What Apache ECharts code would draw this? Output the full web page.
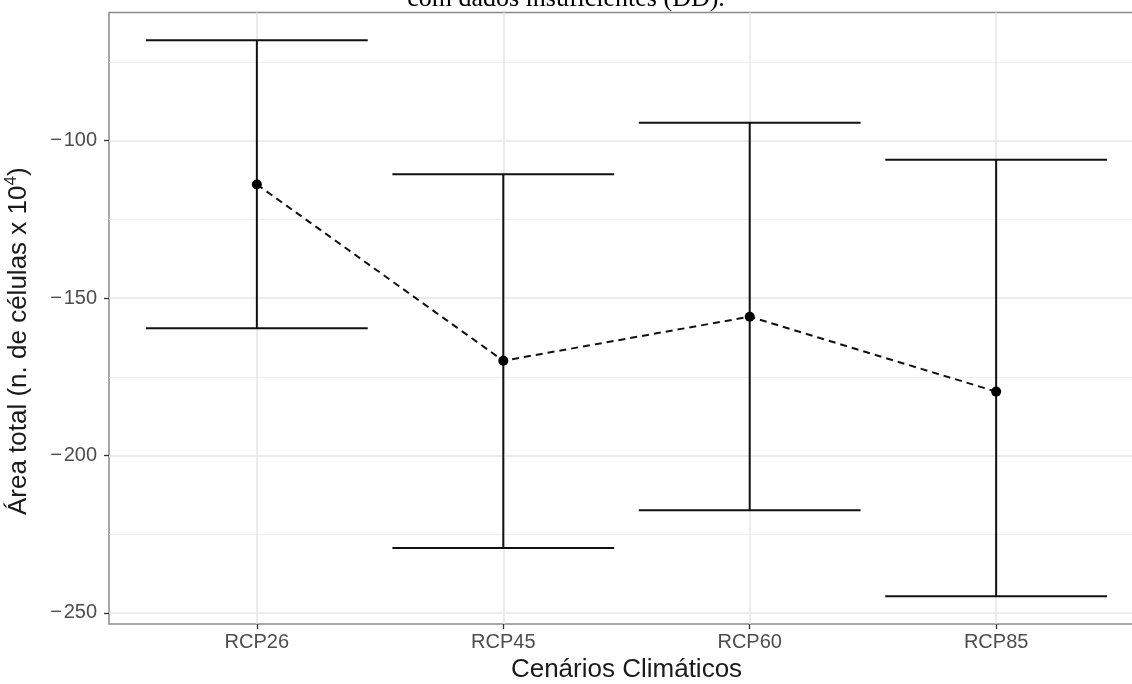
<!DOCTYPE html>
<html>
<head>
<meta charset="utf-8">
<script src="https://cdn.jsdelivr.net/npm/echarts@6/dist/echarts.min.js"></script>
<style>
html,body{margin:0;padding:0;background:#fff;overflow:hidden;}
#chart{width:1132px;height:684px;}
</style>
</head>
<body>
<div id="chart"></div>
<script>
const categories = ['RCP26', 'RCP45', 'RCP60', 'RCP85'];
const meanValues = [-113.9, -169.9, -155.9, -179.7];
const lowerValues = [-159.6, -229.4, -217.4, -244.7];
const upperValues = [-68.1, -110.7, -94.3, -106.1];
const yTicks = [-250, -200, -150, -100];
const yMinorTicks = [-225, -175, -125, -75];
const xPositions = [1, 2, 3, 4];

const titleText = 'com dados insuficientes (DD).';
const xTitle = 'Cenários Climáticos';
const yTitle = 'Área total (n. de células x 10{s|4})';

const chart = echarts.init(document.getElementById('chart'), null, {renderer: 'canvas'});

const errData = categories.map((c, i) => [xPositions[i], lowerValues[i], upperValues[i]]);
const meanData = categories.map((c, i) => [xPositions[i], meanValues[i]]);

const option = {
  animation: false,
  backgroundColor: '#ffffff',
  title: {
    text: titleText,
    left: 'center',
    top: -19,
    textStyle: {fontFamily: 'Liberation Serif', fontSize: 26, fontWeight: 'normal', color: '#000'}
  },
  grid: {
    left: 109, right: -12, top: 12.5, bottom: 60,
    outerBoundsMode: 'none', containLabel: false,
    show: true, borderColor: '#8a8a8a', borderWidth: 1.5, backgroundColor: 'transparent'
  },
  xAxis: {
    type: 'value', min: 0.4, max: 4.6,
    name: xTitle, nameLocation: 'middle', nameGap: 30,
    nameTextStyle: {fontFamily: 'Liberation Sans', fontSize: 26, color: '#1a1a1a'},
    axisLine: {show: false},
    axisTick: {show: true, customValues: xPositions, length: 5, lineStyle: {color: '#333', width: 1.3}},
    axisLabel: {customValues: xPositions, formatter: v => categories[Math.round(v) - 1] || '',
      fontFamily: 'Liberation Sans', fontSize: 20, color: '#4d4d4d', margin: 8},
    splitLine: {show: true, lineStyle: {color: '#e6e6e6', width: 1.5}}
  },
  yAxis: [{
    type: 'value', min: -253.5, max: -59.3,
    name: yTitle, nameLocation: 'middle', nameGap: 74, nameRotate: 90,
    nameTextStyle: {fontFamily: 'Liberation Sans', fontSize: 26, color: '#1a1a1a', padding: [0, 46, 0, 0],
      rich: {s: {fontFamily: 'Liberation Sans', fontSize: 17, color: '#1a1a1a', padding: [0, 0, 15, 0]}}},
    axisLine: {show: false},
    axisTick: {show: true, customValues: yTicks, length: 5, lineStyle: {color: '#333', width: 1.3}},
    axisLabel: {customValues: yTicks, formatter: v => String(v).replace('-', '\u2212\u200A'),
      fontFamily: 'Liberation Sans', fontSize: 20, color: '#4d4d4d', margin: 12},
    splitLine: {show: true, lineStyle: {color: '#e6e6e6', width: 1.5}}
  }, {
    type: 'value', min: -253.5, max: -59.3, position: 'left',
    axisLine: {show: false},
    axisTick: {show: false, customValues: yMinorTicks},
    axisLabel: {show: false, customValues: yMinorTicks},
    splitLine: {show: true, lineStyle: {color: '#eeeeee', width: 1.2}}
  }],
  series: [{
    type: 'custom',
    yAxisIndex: 0,
    data: errData,
    z: 3,
    renderItem: function (params, api) {
      const x = api.value(0), lo = api.value(1), hi = api.value(2);
      const pTop = api.coord([x, hi]);
      const pBot = api.coord([x, lo]);
      const l = api.coord([x - 0.45, hi])[0];
      const r = api.coord([x + 0.45, hi])[0];
      const st = {stroke: '#111', lineWidth: 2};
      return {type: 'group', children: [
        {type: 'line', shape: {x1: pTop[0], y1: pTop[1], x2: pBot[0], y2: pBot[1]}, style: st},
        {type: 'line', shape: {x1: l, y1: pTop[1], x2: r, y2: pTop[1]}, style: st},
        {type: 'line', shape: {x1: l, y1: pBot[1], x2: r, y2: pBot[1]}, style: st}
      ]};
    }
  }, {
    type: 'line',
    yAxisIndex: 0,
    data: meanData,
    z: 4,
    symbol: 'circle', symbolSize: 10,
    itemStyle: {color: '#000'},
    lineStyle: {color: '#111', width: 2, type: [7, 5]}
  }]
};
chart.setOption(option);
</script>
</body>
</html>
